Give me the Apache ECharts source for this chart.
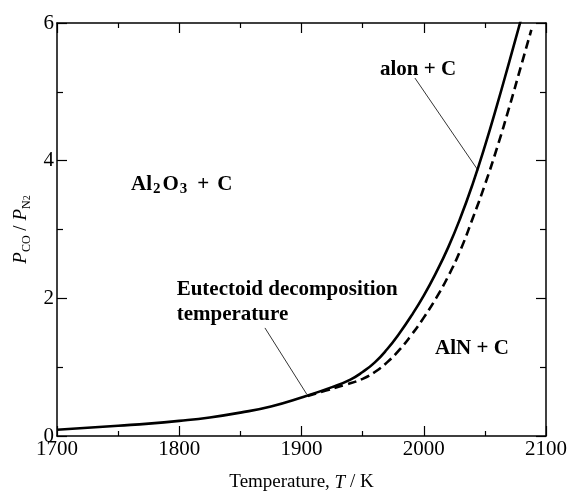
<!DOCTYPE html>
<html>
<head>
    <meta charset="utf-8">
    <title>PCO / PN2 vs T</title>
    <script src="https://cdn.jsdelivr.net/npm/echarts@6/dist/echarts.min.js"></script>
</head>
<body style="margin:0">
    <div id="main" style="width: 580px;height:497px;"></div>
    <script type="text/javascript">
        // solid line: Al2O3 + C boundary (alon + C side above eutectoid)
        var tempSolid = [1700, 1725, 1750, 1775, 1800, 1825, 1850, 1875, 1900, 1925, 1940, 1950, 1960, 1970, 1980, 1990, 2000, 2010, 2020, 2030, 2040, 2050, 2060, 2070, 2080];
        var ratioSolid = [0.09, 0.12, 0.15, 0.18, 0.22, 0.27, 0.34, 0.43, 0.56, 0.71, 0.82, 0.93, 1.07, 1.26, 1.49, 1.75, 2.04, 2.37, 2.74, 3.17, 3.66, 4.21, 4.81, 5.44, 6.08];
        // dashed line: alon + C / AlN + C boundary
        var tempDash = [1905, 1920, 1935, 1950, 1960, 1970, 1980, 1990, 2000, 2010, 2020, 2030, 2040, 2050, 2060, 2070, 2080, 2088];
        var ratioDash = [0.58, 0.66, 0.74, 0.83, 0.93, 1.07, 1.25, 1.47, 1.72, 2.00, 2.32, 2.70, 3.16, 3.65, 4.19, 4.78, 5.40, 5.90];

        var xTicks = [1700, 2100, 100];
        var yTicks = [0, 6, 2];

        // annotation text anchors (left edge, vertical centre) and leader lines, data coordinates
        var labelAlon = [1964.2, 5.33];
        var leaderAlon = [[1992.8, 5.2], [2044.4, 3.86]];
        var labelAl2O3 = [1759.7, 3.65];
        var labelEutectoid = [1797.9, 1.95];
        var leaderEutectoid = [[1870.1, 1.57], [1904.2, 0.61]];
        var labelAlN = [2009.2, 1.27];

        function pairs(xs, ys) {
            return xs.map(function (x, i) { return [x, ys[i]]; });
        }

        var font = 'Liberation Serif';
        var chart = echarts.init(document.getElementById('main'));

        var axisX = {
            type: 'value', min: xTicks[0], max: xTicks[1], interval: xTicks[2],
            axisLine: { onZero: false, lineStyle: { color: '#000', width: 1.5 } },
            axisTick: { inside: true, length: 10, lineStyle: { color: '#000', width: 1.2 } },
            minorTick: { show: true, splitNumber: 2, length: 5, lineStyle: { color: '#000', width: 1.2 } },
            splitLine: { show: false },
            axisLabel: { color: '#000', fontSize: 21, fontFamily: font, margin: 3, formatter: function (v) { return String(v); } }
        };
        var axisY = {
            type: 'value', min: yTicks[0], max: yTicks[1], interval: yTicks[2],
            axisLine: { onZero: false, lineStyle: { color: '#000', width: 1.5 } },
            axisTick: { inside: true, length: 10, lineStyle: { color: '#000', width: 1.2 } },
            minorTick: { show: true, splitNumber: 2, length: 6, lineStyle: { color: '#000', width: 1.2 } },
            splitLine: { show: false },
            axisLabel: { color: '#000', fontSize: 21, fontFamily: font, margin: 3 }
        };

        var annStyle = { color: '#000', fontFamily: font, fontSize: 21, fontWeight: 'bold' };

        function textAt(coord, text, extra) {
            return {
                coord: coord,
                label: Object.assign({ show: true, position: 'inside', align: 'left', formatter: text }, extra || {})
            };
        }

        option = {
            animation: false,
            textStyle: { fontFamily: font },
            grid: { left: 57, right: 34, top: 23, bottom: 56 },
            xAxis: [
                Object.assign({}, axisX, {
                    position: 'bottom',
                    name: '{n|Temperature, }{i|T}{n| / K}',
                    nameLocation: 'middle', nameGap: 37,
                    nameTextStyle: {
                        rich: {
                            n: { fontSize: 19, fontFamily: font, color: '#000' },
                            i: { fontSize: 19, fontFamily: font, fontStyle: 'italic', color: '#000' }
                        }
                    }
                }),
                Object.assign({}, axisX, { position: 'top', axisLabel: { show: false } })
            ],
            yAxis: [
                Object.assign({}, axisY, {
                    position: 'left',
                    name: '{i|P}{s|CO}{n| / }{i|P}{s|N}{ss|2}',
                    nameLocation: 'middle', nameGap: 24, nameRotate: 90,
                    nameTextStyle: {
                        rich: {
                            i: { fontSize: 19, fontFamily: font, fontStyle: 'italic', color: '#000', lineHeight: 24 },
                            n: { fontSize: 19, fontFamily: font, color: '#000', lineHeight: 24 },
                            s: { fontSize: 12, fontFamily: font, color: '#000', lineHeight: 10, verticalAlign: 'bottom' },
                            ss: { fontSize: 10, fontFamily: font, color: '#000', lineHeight: 4, verticalAlign: 'bottom' }
                        }
                    }
                }),
                Object.assign({}, axisY, { position: 'right', axisLabel: { show: false } })
            ],
            series: [
                {
                    type: 'line',
                    data: pairs(tempSolid, ratioSolid),
                    smooth: true,
                    symbol: 'none',
                    lineStyle: { color: '#000', width: 2.6 },
                    markLine: {
                        silent: true,
                        symbol: ['none', 'none'],
                        label: { show: false },
                        lineStyle: { color: '#000', width: 0.8, type: 'solid' },
                        data: [
                            [{ coord: leaderAlon[0] }, { coord: leaderAlon[1] }],
                            [{ coord: leaderEutectoid[0] }, { coord: leaderEutectoid[1] }]
                        ]
                    },
                    markPoint: {
                        silent: true,
                        symbol: 'circle',
                        symbolSize: 0,
                        data: [
                            textAt(labelAlon, 'alon + C'),
                            textAt(labelAl2O3, '{b|Al}{s|2}{b|O}{s|3}{p|+}{b|C}'),
                            textAt(labelEutectoid, 'Eutectoid decomposition\ntemperature', { lineHeight: 25 }),
                            textAt(labelAlN, 'AlN + C')
                        ],
                        label: Object.assign({
                            rich: {
                                b: Object.assign({ lineHeight: 24, padding: [0, 1, 0, 1] }, annStyle),
                                p: Object.assign({ lineHeight: 24, padding: [0, 7, 0, 9] }, annStyle),
                                s: { color: '#000', fontFamily: font, fontSize: 15, fontWeight: 'bold', lineHeight: 12, verticalAlign: 'bottom', padding: [0, 1, 0, 0] }
                            }
                        }, annStyle)
                    }
                },
                {
                    type: 'line',
                    data: pairs(tempDash, ratioDash),
                    smooth: true,
                    symbol: 'none',
                    lineStyle: { color: '#000', width: 2.6, type: [9, 5] }
                }
            ]
        };
        chart.setOption(option);
    </script>
</body>
</html>
